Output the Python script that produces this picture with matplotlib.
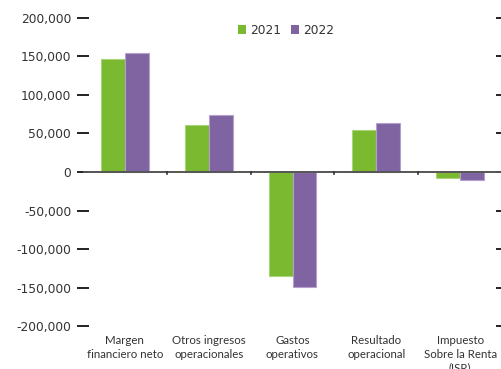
import matplotlib
matplotlib.use("Agg")
import matplotlib.pyplot as plt
import numpy as np
from matplotlib.patches import Patch

categories = ["Margen\nfinanciero neto", "Otros ingresos\noperacionales", "Gastos\noperativos",
              "Resultado\noperacional", "Impuesto\nSobre la Renta\n(ISR)"]
series_names = ["2021", "2022"]
values_2021 = [146000, 60300, -135000, 53800, -7800]
values_2022 = [154200, 74000, -148500, 62900, -10400]
yticks = [-200000, -150000, -100000, -50000, 0, 50000, 100000, 150000, 200000]

green = "#7AB930"
purple = "#8064A2"
txt = "#333333"

plt.rcParams['font.family'] = ['Lato', 'DejaVu Sans']

fig = plt.figure(figsize=(5.01, 3.69), dpi=100)
W, H = 501, 369
ax = fig.add_axes([83 / W, (H - 326.3) / H, 419 / W, 308.8 / H])

x = np.arange(len(categories))
bw = 0.286
ax.bar(x - bw / 2, values_2021, bw, color=green, edgecolor="#a9d47a", linewidth=0.8, zorder=2)
ax.bar(x + bw / 2, values_2022, bw, color=purple, edgecolor="#b4a0cc", linewidth=0.8, zorder=2)

ax.set_xlim(-0.5, len(categories) - 0.5)
ax.set_ylim(-200000, 200000)
ax.set_yticks(yticks)
ax.set_yticklabels([f"{v:,}" for v in yticks], fontfamily='DejaVu Sans')
ax.tick_params(axis='y', direction='inout', length=9, width=1.4, color="#222222",
               labelsize=8.8, labelcolor=txt, pad=4, right=True)

for s in ax.spines.values():
    s.set_visible(False)

ax.axhline(0, color="#555555", linewidth=1.4, zorder=3)
ax.set_xticks([])
for b in np.arange(0.5, len(categories) - 0.5, 1.0):
    ax.plot([b, b], [0, -3000], color="#333333", linewidth=1.2, zorder=3, clip_on=False)

for i, c in enumerate(categories):
    ax.text(i, -211500, c, ha='center', va='top', fontsize=8.3, color=txt, linespacing=1.28)

handles = [Patch(facecolor=green, label=series_names[0]), Patch(facecolor=purple, label=series_names[1])]
fig.legend(handles=handles, loc='center', bbox_to_anchor=(286 / W, (H - 30) / H), ncol=2,
           frameon=False, prop={'family': 'DejaVu Sans', 'size': 8.8}, handlelength=0.7,
           handleheight=0.7, handletextpad=0.3, columnspacing=0.8, labelcolor=txt)

fig.savefig("out.png", dpi=100)
